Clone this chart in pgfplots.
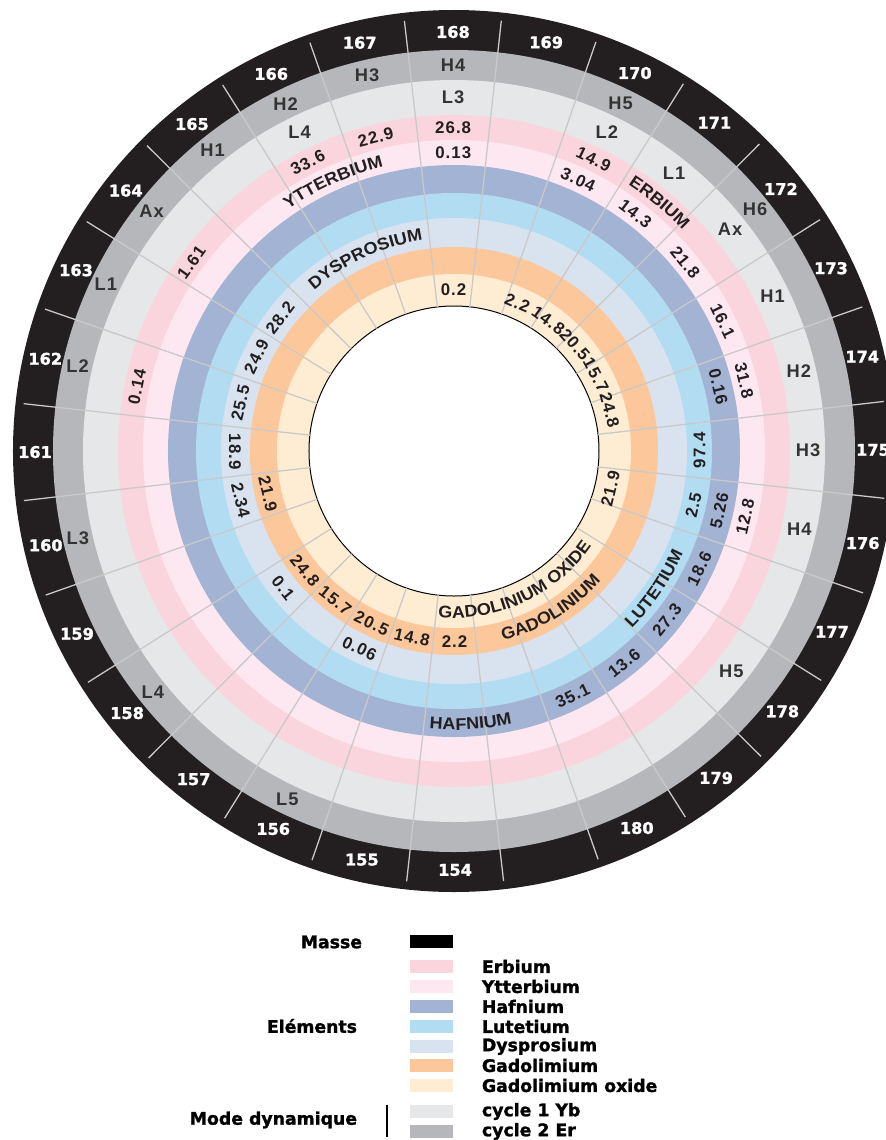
\documentclass[border=0pt]{standalone}
\usepackage{pgfplots}
\pgfplotsset{compat=1.18}
\usepackage{pgfplotstable}
\usetikzlibrary{decorations.text}
\usepackage{fontspec}
\setmainfont{Liberation Sans}
\newfontfamily\lsb{Liberation Sans}[LetterSpace=6]
\newfontfamily\lsbname{Liberation Sans Bold}[FakeStretch=1.07]
\newfontfamily\dvsheavy{DejaVu Sans Bold}[FakeBold=1.4]

\definecolor{cblack}{HTML}{231F20}
\definecolor{cer2}{HTML}{B6B7BA}
\definecolor{cyb1}{HTML}{E6E7E9}
\definecolor{erb}{HTML}{FAD5DD}
\definecolor{ytt}{HTML}{FDE8F1}
\definecolor{haf}{HTML}{A3B3D4}
\definecolor{lut}{HTML}{B2DCF2}
\definecolor{dys}{HTML}{D9E3F0}
\definecolor{gad}{HTML}{FCC89B}
\definecolor{gox}{HTML}{FEEDD3}
\definecolor{rad}{HTML}{C9C9C9}
\definecolor{ctext}{HTML}{231F20}
\definecolor{cmode}{HTML}{333333}

\newcommand\valfont{\lsb\bfseries\fontsize{12}{13}\selectfont}
\newcommand\modefont{\lsb\bfseries\fontsize{13}{14}\selectfont}
\newcommand\massfont{\dvsheavy\fontsize{11.5}{12}\selectfont}
\newcommand\namefont{\lsbname\fontsize{12}{13}\selectfont}
\newcommand\legfont{\dvsheavy\fontsize{12.3}{13}\selectfont}

% sector boundaries (index k, inner radius r0, outer radius r1)
\pgfplotstableread{
k r0 r1
0 145 433
1 145 433
2 145 433
3 145 433
4 145 433
5 145 433
6 145 433
7 145 433
8 145 433
9 145 433
10 145 433
11 145 433
12 145 433
13 145 433
14 145 433
15 145 433
16 145 433
17 145 433
18 145 433
19 145 433
20 145 433
21 145 433
22 145 433
23 145 433
24 145 433
25 145 433
26 145 433
27 145 433
}\radtab

% masses (outer black ring)
\pgfplotstableread{
m r
154 419
155 419
156 419
157 419
158 419
159 419
160 419
161 419
162 419
163 419
164 419
165 419
166 419
167 419
168 419
169 419
170 419
171 419
172 419
173 419
174 419
175 419
176 419
177 419
178 419
179 419
180 419
}\masstab

% dynamic mode labels: r=386 cycle 2 Er, r=354 cycle 1 Yb
\pgfplotstableread{
m r lab
156 386 L5
158 386 L4
160 386 L3
162 386 L2
163 386 L1
164 386 Ax
165 386 H1
166 386 H2
167 386 H3
168 386 H4
170 386 H5
172 386 H6
166 354 L4
168 354 L3
170 354 L2
171 354 L1
172 354 Ax
173 354 H1
174 354 H2
175 354 H3
176 354 H4
178 354 H5
}\modetab

% element values: r = ring (Er 323.5, Yb 298.5, Hf 272, Lu 245.5, Dy 219, Gd 191, Gd oxide 161)
\pgfplotstableread{
m r d lab
168 323.5 0 26.8
167 323.5 1 22.9
166 323.5 1 33.6
164 323.5 2.7 1.61
162 323.5 1.2 0.14
170 323.5 0 14.9
168 298.5 0 0.13
170 298.5 1 3.04
171 298.5 1 14.3
172 298.5 0.5 21.8
173 298.5 0 16.1
174 298.5 0.6 31.8
176 298.5 0 12.8
174 272 0.7 0.16
176 272 0 5.26
177 272 0 18.6
178 272 0 27.3
179 272 0 13.6
180 272 0 35.1
175 245.5 0 97.4
176 245.5 0 2.5
161 219 0 18.9
160 219 0 2.34
162 219 0 25.5
163 219 0 24.9
164 219 1 28.2
158 219 0 0.1
156 219 0 0.06
160 191 0 21.9
158 191 0 24.8
157 191 0 15.7
156 191 0 20.5
155 191 0 14.8
154 191 0 2.2
168 161 0 0.2
170 161 2.4 2.2
171 161 2.6 14.8
172 161 2.6 20.5
173 161 2.3 15.7
174 161 1.8 24.8
176 161 -0.8 21.9
}\valtab

\begin{document}
\begin{tikzpicture}
\begin{axis}[
  at={(0,0)}, anchor=south west,
  x=0.25mm, y=0.25mm,
  xmin=0, xmax=885, ymin=0, ymax=1140,
  hide axis, clip=false,
  declare function={
    sang(\m)=90.15-12.857143*((\m>167.5)*(\m-168)+(\m<167.5)*(\m-140));
    rotfn(\a)=\a-90+180*(sin(\a)<0.01);
  },
]
\coordinate (C) at (axis cs:454,689);
\fill[cblack] (axis cs:454,689) circle[radius=110.25mm];
\fill[cer2]   (axis cs:454,689) circle[radius=100.25mm];
\fill[cyb1]   (axis cs:454,689) circle[radius=92.75mm];
\fill[erb]    (axis cs:454,689) circle[radius=84mm];
\fill[ytt]    (axis cs:454,689) circle[radius=77.75mm];
\fill[haf]    (axis cs:454,689) circle[radius=71.5mm];
\fill[lut]    (axis cs:454,689) circle[radius=64.5mm];
\fill[dys]    (axis cs:454,689) circle[radius=58.25mm];
\fill[gad]    (axis cs:454,689) circle[radius=51mm];
\fill[gox]    (axis cs:454,689) circle[radius=44.25mm];
\filldraw[fill=white, draw=black, line width=0.25mm] (axis cs:454,689) circle[radius=36.25mm];

% radial separators
\addplot[draw=rad, line width=0.32mm, mark=none, -,
  quiver={u={(\thisrow{r1}-\thisrow{r0})*cos(96.58-12.857143*\thisrow{k})},
          v={(\thisrow{r1}-\thisrow{r0})*sin(96.58-12.857143*\thisrow{k})}}]
  table[x expr={454+\thisrow{r0}*cos(96.58-12.857143*\thisrow{k})},
        y expr={689+\thisrow{r0}*sin(96.58-12.857143*\thisrow{k})}] {\radtab};

% masses
\addplot[draw=none, mark=none, nodes near coords, point meta=explicit symbolic,
  every node near coord/.append style={anchor=center, text=white, font=\massfont, inner sep=0pt}]
  table[x expr={454+\thisrow{r}*cos(sang(\thisrow{m}))},
        y expr={689+\thisrow{r}*sin(sang(\thisrow{m}))}, meta=m] {\masstab};

% dynamic modes
\addplot[draw=none, mark=none, nodes near coords, point meta=explicit symbolic,
  every node near coord/.append style={anchor=center, text=cmode, font=\modefont, inner sep=0pt}]
  table[x expr={454+\thisrow{r}*cos(sang(\thisrow{m}))},
        y expr={689+\thisrow{r}*sin(sang(\thisrow{m}))}, meta=lab] {\modetab};

% element values
\addplot[draw=none, mark=none, nodes near coords, point meta=explicit symbolic,
  visualization depends on={rotfn(sang(\thisrow{m})+\thisrow{d}) \as \rot},
  every node near coord/.append style={anchor=center, text=ctext, font=\valfont, inner sep=0pt, rotate=\rot}]
  table[x expr={454+\thisrow{r}*cos(sang(\thisrow{m})+\thisrow{d})},
        y expr={689+\thisrow{r}*sin(sang(\thisrow{m})+\thisrow{d})}, meta=lab] {\valtab};

% legend
\fill[black] (axis cs:410,192) rectangle (axis cs:453,205);
\node[anchor=east, font=\legfont] at (axis cs:367,198) {Masse};
\fill[erb] (axis cs:410,167) rectangle (axis cs:453,180);
\node[anchor=west, font=\legfont] at (axis cs:477,173.5) {Erbium};
\fill[ytt] (axis cs:410,147) rectangle (axis cs:453,160);
\node[anchor=west, font=\legfont] at (axis cs:477,153.5) {Ytterbium};
\fill[haf] (axis cs:410,127) rectangle (axis cs:453,140);
\node[anchor=west, font=\legfont] at (axis cs:477,133.5) {Hafnium};
\fill[lut] (axis cs:410,107) rectangle (axis cs:453,120);
\node[anchor=west, font=\legfont] at (axis cs:477,113.5) {Lutetium};
\fill[dys] (axis cs:410,87) rectangle (axis cs:453,100);
\node[anchor=west, font=\legfont] at (axis cs:477,93.5) {Dysprosium};
\fill[gad] (axis cs:410,68) rectangle (axis cs:453,81);
\node[anchor=west, font=\legfont] at (axis cs:477,74.5) {Gadolimium};
\fill[gox] (axis cs:410,48) rectangle (axis cs:453,61);
\node[anchor=west, font=\legfont] at (axis cs:477,54.5) {Gadolimium oxide};
\node[anchor=east, font=\legfont] at (axis cs:362,114) {Eléments};
\fill[cyb1] (axis cs:410,22) rectangle (axis cs:453,35);
\node[anchor=west, font=\legfont] at (axis cs:477,28.5) {cycle 1 Yb};
\fill[cer2] (axis cs:410,2) rectangle (axis cs:453,15);
\node[anchor=west, font=\legfont] at (axis cs:477,8.5) {cycle 2 Er};
\node[anchor=east, font=\legfont] at (axis cs:362,20) {Mode dynamique};
\draw[black, line width=0.35mm] (axis cs:387,3) -- (axis cs:387,35);
\end{axis}

% curved element names
\path[decorate, decoration={text along path, text align=center, text color=ctext,
  text={|\namefont|ERBIUM}}]
  (C) ++(90.4:79.5mm) arc[start angle=90.4, end angle=10.4, radius=79.5mm];
\path[decorate, decoration={text along path, text align=center, text color=ctext,
  text={|\namefont|YTTERBIUM}}]
  (C) ++(154.2:73.25mm) arc[start angle=154.2, end angle=74.2, radius=73.25mm];
\path[decorate, decoration={text along path, text align=center, text color=ctext,
  text={|\namefont|DYSPROSIUM}}]
  (C) ++(154.7:53.25mm) arc[start angle=154.7, end angle=74.7, radius=53.25mm];
\path[decorate, decoration={text along path, text align=center, text color=ctext,
  text={|\namefont|HAFNIUM}}]
  (C) ++(-126.5:69.75mm) arc[start angle=-126.5, end angle=-46.5, radius=69.75mm];
\path[decorate, decoration={text along path, text align=center, text color=ctext,
  text={|\namefont|LUTETIUM}}]
  (C) ++(-74.5:62.75mm) arc[start angle=-74.5, end angle=5.5, radius=62.75mm];
\path[decorate, decoration={text along path, text align=center, text color=ctext,
  text={|\namefont|GADOLINIUM}}]
  (C) ++(-98.5:49mm) arc[start angle=-98.5, end angle=-18.5, radius=49mm];
\path[decorate, decoration={text along path, text align=center, text color=ctext,
  text={|\namefont|GADOLINIUM OXIDE}}]
  (C) ++(-125:41.75mm) arc[start angle=-125, end angle=-5, radius=41.75mm];

\pgfresetboundingbox
\path[use as bounding box] (0,0) rectangle (221.25mm,285mm);
\end{tikzpicture}
\end{document}
